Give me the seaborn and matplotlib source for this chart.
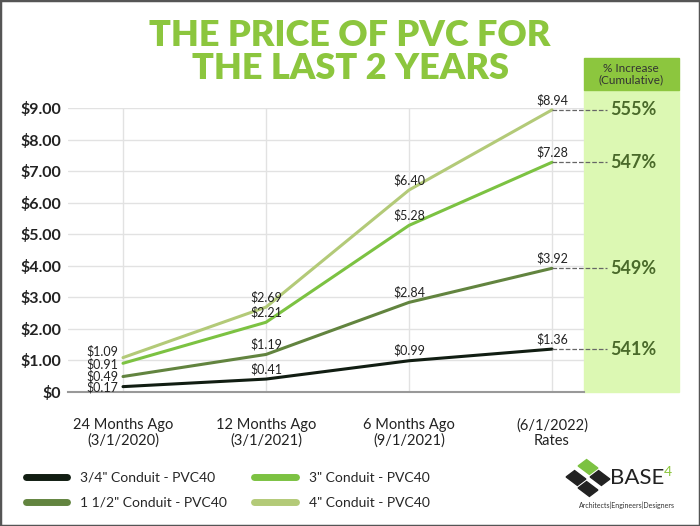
import pandas as pd
import matplotlib.pyplot as plt
import seaborn as sns
from matplotlib.patches import Rectangle

periods = ['24 Months Ago\n(3/1/2020)', '12 Months Ago\n(3/1/2021)',
           '6 Months Ago\n(9/1/2021)', '(6/1/2022)\nRates']
series_names = ['3/4" Conduit - PVC40', '1 1/2" Conduit - PVC40',
                '3" Conduit - PVC40', '4" Conduit - PVC40']
price_34 = [0.17, 0.41, 0.99, 1.36]
price_112 = [0.49, 1.19, 2.84, 3.92]
price_3 = [0.91, 2.21, 5.28, 7.28]
price_4 = [1.09, 2.69, 6.40, 8.94]
pct_increase = ['541%', '549%', '547%', '555%']
yticks = [0, 1, 2, 3, 4, 5, 6, 7, 8, 9]
ytick_labels = ['$0', '$1.00', '$2.00', '$3.00', '$4.00', '$5.00',
                '$6.00', '$7.00', '$8.00', '$9.00']

colors = ['#111d12', '#62843f', '#7cc242', '#b3ca78']

all_prices = [price_34, price_112, price_3, price_4]
rows = []
for name, vals in zip(series_names, all_prices):
    for i, v in enumerate(vals):
        rows.append({'pos': i, 'price': v, 'series': name})
df = pd.DataFrame(rows)

sns.set_style('white')
plt.rcParams['font.family'] = ['Lato', 'DejaVu Sans']

fig = plt.figure(figsize=(7, 5.26), dpi=100)
W, H = 700, 526

# green panel for % increase
fig.patches.append(Rectangle((584 / W, 1 - 392 / H), 95 / W, 302 / H,
                             transform=fig.transFigure, color='#dcf8b3', zorder=-2))
fig.patches.append(Rectangle((584 / W, 1 - 90 / H), 95 / W, 32 / H,
                             transform=fig.transFigure, color='#8cc63e', zorder=-2))
fig.text(631 / W, 1 - 74 / H, '% Increase\n(Cumulative)', ha='center', va='center',
         fontsize=8.5, color='#333333', linespacing=1.0)

ax = fig.add_axes([68 / W, 1 - 392 / H, 516 / W, 284 / H])
ax.patch.set_alpha(0)
sns.lineplot(data=df, x='pos', y='price', hue='series', palette=colors,
             linewidth=2.2, ax=ax, legend=True)

ax.set_xlim(-55 / 143, 3 + 32 / 143)
ax.set_ylim(0, 9)
ax.set_yticks(yticks)
ax.set_yticklabels(ytick_labels, fontsize=11.5, fontweight='bold', color='#222222')
ax.set_xticks(range(4))
ax.set_xticklabels(periods, fontsize=10.5, color='#222222', linespacing=1.1)
ax.tick_params(axis='x', length=5, color='#999999', pad=14)
ax.tick_params(axis='y', length=0, pad=5)
ax.set_xlabel('')
ax.set_ylabel('')
ax.grid(True, color='#e2e2e2', linewidth=1)
for s in ['top', 'right', 'left']:
    ax.spines[s].set_visible(False)
ax.spines['bottom'].set_color('#999999')
ax.spines['bottom'].set_linewidth(1.5)

# value labels (first column stacked to the left of the points)
first_label_y = [0.16, 0.51, 0.89, 1.30]
for k, vals in enumerate(all_prices):
    for i, v in enumerate(vals):
        if i == 0:
            ax.text(i - 0.03, first_label_y[k], f'${v:.2f}', ha='right',
                    va='center', fontsize=9, color='#222222')
        else:
            ax.text(i, v + 0.12, f'${v:.2f}', ha='center', va='bottom',
                    fontsize=9, color='#222222', clip_on=False)

# dashed leaders and % increase
for vals, pct in zip(all_prices, pct_increase):
    y = vals[-1]
    ax.plot([3, 3 + 55 / 143], [y, y], ls='--', color='#666666', lw=0.9,
            clip_on=False)
    ax.text(3 + 58 / 143, y, pct, ha='left', va='center', fontsize=13,
            fontweight='bold', color='#4a6a2a', clip_on=False)

# legend
handles, labels = ax.get_legend_handles_labels()
ax.legend_.remove()
for h in handles:
    h.set_linewidth(5)
fig.legend(handles, labels, loc='upper left',
           bbox_to_anchor=(20 / W, 1 - 466 / H), ncol=2,
           frameon=False, fontsize=10, handlelength=3.0, handletextpad=0.9,
           columnspacing=2.0, labelspacing=0.95, borderaxespad=0)

# title
fig.text(350 / W, 1 - 52 / H, 'THE PRICE OF PVC FOR\nTHE LAST 2 YEARS',
         ha='center', va='center', fontsize=26, fontweight='heavy',
         color='#8cc63e', linespacing=1.0)

# logo
for (cx, cy, c) in [(576, 478, '#222222'), (588, 467, '#7cc242'),
                    (588, 489, '#222222'), (600, 478, '#222222')]:
    fig.patches.append(Rectangle(((cx - 6) / W, 1 - (cy + 6) / H), 12 / W, 12 / H,
                                 angle=45, transform=fig.transFigure, color=c,
                                 rotation_point='center'))
fig.text(637 / W, 1 - 478 / H, 'BASE', ha='center', va='center',
         fontsize=16, color='#222222')
fig.text(664 / W, 1 - 472 / H, '4', ha='left', va='center',
         fontsize=10, color='#8cc63e')
fig.text(627 / W, 1 - 505 / H, 'Architects|Engineers|Designers', ha='center',
         va='center', fontsize=5, color='#333333')

# border
fig.patches.append(Rectangle((0, 0), 1, 1, transform=fig.transFigure,
                             fill=False, edgecolor='#555555', linewidth=2.5))

fig.savefig('out.png', dpi=100)
